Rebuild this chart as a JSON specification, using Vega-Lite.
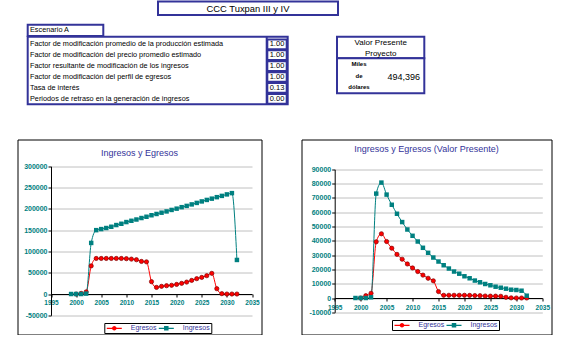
{
  "$schema": "https://vega.github.io/schema/vega-lite/v6.json",
  "background": "white",
  "padding": {"left": 16.5, "top": 0, "right": 0, "bottom": 0},
  "spacing": 27.5,
  "config": {"view": {"stroke": "black", "strokeWidth": 1}},
  "datasets": {
    "parametros": [
      {"fila": 1, "concepto": "Factor de modificación promedio de la producción estimada", "valor": 1.0},
      {"fila": 2, "concepto": "Factor de modificación del precio promedio estimado", "valor": 1.0},
      {"fila": 3, "concepto": "Factor resultante de modificación de los ingresos", "valor": 1.0},
      {"fila": 4, "concepto": "Factor de modificación del perfil de egresos", "valor": 1.0},
      {"fila": 5, "concepto": "Tasa de interés", "valor": 0.13},
      {"fila": 6, "concepto": "Periodos de retraso en la generación de ingresos", "valor": 0.0}
    ],
    "nominal": [
      {"anio": 2000, "serie": "Egresos", "valor": 0},
      {"anio": 2001, "serie": "Egresos", "valor": 1500},
      {"anio": 2002, "serie": "Egresos", "valor": 5000},
      {"anio": 2003, "serie": "Egresos", "valor": 66000},
      {"anio": 2004, "serie": "Egresos", "valor": 83500},
      {"anio": 2005, "serie": "Egresos", "valor": 83500},
      {"anio": 2006, "serie": "Egresos", "valor": 83500},
      {"anio": 2007, "serie": "Egresos", "valor": 83500},
      {"anio": 2008, "serie": "Egresos", "valor": 83500},
      {"anio": 2009, "serie": "Egresos", "valor": 83500},
      {"anio": 2010, "serie": "Egresos", "valor": 83000},
      {"anio": 2011, "serie": "Egresos", "valor": 82000},
      {"anio": 2012, "serie": "Egresos", "valor": 80500},
      {"anio": 2013, "serie": "Egresos", "valor": 76500},
      {"anio": 2014, "serie": "Egresos", "valor": 75500},
      {"anio": 2015, "serie": "Egresos", "valor": 29000},
      {"anio": 2016, "serie": "Egresos", "valor": 15500},
      {"anio": 2017, "serie": "Egresos", "valor": 18000},
      {"anio": 2018, "serie": "Egresos", "valor": 19500},
      {"anio": 2019, "serie": "Egresos", "valor": 20500},
      {"anio": 2020, "serie": "Egresos", "valor": 22500},
      {"anio": 2021, "serie": "Egresos", "valor": 25000},
      {"anio": 2022, "serie": "Egresos", "valor": 28000},
      {"anio": 2023, "serie": "Egresos", "valor": 32000},
      {"anio": 2024, "serie": "Egresos", "valor": 36000},
      {"anio": 2025, "serie": "Egresos", "valor": 39000},
      {"anio": 2026, "serie": "Egresos", "valor": 43000},
      {"anio": 2027, "serie": "Egresos", "valor": 48500},
      {"anio": 2028, "serie": "Egresos", "valor": 12500},
      {"anio": 2029, "serie": "Egresos", "valor": 800},
      {"anio": 2030, "serie": "Egresos", "valor": 0},
      {"anio": 2031, "serie": "Egresos", "valor": 0},
      {"anio": 2032, "serie": "Egresos", "valor": 0},
      {"anio": 1999, "serie": "Ingresos", "valor": 0},
      {"anio": 2000, "serie": "Ingresos", "valor": 0},
      {"anio": 2001, "serie": "Ingresos", "valor": 0},
      {"anio": 2002, "serie": "Ingresos", "valor": 1000},
      {"anio": 2003, "serie": "Ingresos", "valor": 120000},
      {"anio": 2004, "serie": "Ingresos", "valor": 150000},
      {"anio": 2005, "serie": "Ingresos", "valor": 152500},
      {"anio": 2006, "serie": "Ingresos", "valor": 155000},
      {"anio": 2007, "serie": "Ingresos", "valor": 158000},
      {"anio": 2008, "serie": "Ingresos", "valor": 162000},
      {"anio": 2009, "serie": "Ingresos", "valor": 165000},
      {"anio": 2010, "serie": "Ingresos", "valor": 169000},
      {"anio": 2011, "serie": "Ingresos", "valor": 172000},
      {"anio": 2012, "serie": "Ingresos", "valor": 175000},
      {"anio": 2013, "serie": "Ingresos", "valor": 178500},
      {"anio": 2014, "serie": "Ingresos", "valor": 181500},
      {"anio": 2015, "serie": "Ingresos", "valor": 185000},
      {"anio": 2016, "serie": "Ingresos", "valor": 188000},
      {"anio": 2017, "serie": "Ingresos", "valor": 191000},
      {"anio": 2018, "serie": "Ingresos", "valor": 194000},
      {"anio": 2019, "serie": "Ingresos", "valor": 197500},
      {"anio": 2020, "serie": "Ingresos", "valor": 200500},
      {"anio": 2021, "serie": "Ingresos", "valor": 204000},
      {"anio": 2022, "serie": "Ingresos", "valor": 207000},
      {"anio": 2023, "serie": "Ingresos", "valor": 210500},
      {"anio": 2024, "serie": "Ingresos", "valor": 214000},
      {"anio": 2025, "serie": "Ingresos", "valor": 217500},
      {"anio": 2026, "serie": "Ingresos", "valor": 221000},
      {"anio": 2027, "serie": "Ingresos", "valor": 224000},
      {"anio": 2028, "serie": "Ingresos", "valor": 227500},
      {"anio": 2029, "serie": "Ingresos", "valor": 230500},
      {"anio": 2030, "serie": "Ingresos", "valor": 234000},
      {"anio": 2031, "serie": "Ingresos", "valor": 237000},
      {"anio": 2032, "serie": "Ingresos", "valor": 80000}
    ],
    "presente": [
      {"anio": 2000, "serie": "Egresos", "valor": 0},
      {"anio": 2001, "serie": "Egresos", "valor": 1600},
      {"anio": 2002, "serie": "Egresos", "valor": 3300},
      {"anio": 2003, "serie": "Egresos", "valor": 39300},
      {"anio": 2004, "serie": "Egresos", "valor": 44900},
      {"anio": 2005, "serie": "Egresos", "valor": 39500},
      {"anio": 2006, "serie": "Egresos", "valor": 34800},
      {"anio": 2007, "serie": "Egresos", "valor": 30500},
      {"anio": 2008, "serie": "Egresos", "valor": 27100},
      {"anio": 2009, "serie": "Egresos", "valor": 23800},
      {"anio": 2010, "serie": "Egresos", "valor": 21000},
      {"anio": 2011, "serie": "Egresos", "valor": 18500},
      {"anio": 2012, "serie": "Egresos", "valor": 16000},
      {"anio": 2013, "serie": "Egresos", "valor": 13800},
      {"anio": 2014, "serie": "Egresos", "valor": 12000},
      {"anio": 2015, "serie": "Egresos", "valor": 4500},
      {"anio": 2016, "serie": "Egresos", "valor": 1900},
      {"anio": 2017, "serie": "Egresos", "valor": 1900},
      {"anio": 2018, "serie": "Egresos", "valor": 1900},
      {"anio": 2019, "serie": "Egresos", "valor": 1900},
      {"anio": 2020, "serie": "Egresos", "valor": 1900},
      {"anio": 2021, "serie": "Egresos", "valor": 1800},
      {"anio": 2022, "serie": "Egresos", "valor": 1700},
      {"anio": 2023, "serie": "Egresos", "valor": 1600},
      {"anio": 2024, "serie": "Egresos", "valor": 1400},
      {"anio": 2025, "serie": "Egresos", "valor": 1300},
      {"anio": 2026, "serie": "Egresos", "valor": 1300},
      {"anio": 2027, "serie": "Egresos", "valor": 1200},
      {"anio": 2028, "serie": "Egresos", "valor": 500},
      {"anio": 2029, "serie": "Egresos", "valor": 100},
      {"anio": 2030, "serie": "Egresos", "valor": 0},
      {"anio": 2031, "serie": "Egresos", "valor": 0},
      {"anio": 2032, "serie": "Egresos", "valor": 0},
      {"anio": 1999, "serie": "Ingresos", "valor": 0},
      {"anio": 2000, "serie": "Ingresos", "valor": 0},
      {"anio": 2001, "serie": "Ingresos", "valor": 0},
      {"anio": 2002, "serie": "Ingresos", "valor": 500},
      {"anio": 2003, "serie": "Ingresos", "valor": 73000},
      {"anio": 2004, "serie": "Ingresos", "valor": 80700},
      {"anio": 2005, "serie": "Ingresos", "valor": 72300},
      {"anio": 2006, "serie": "Ingresos", "valor": 65200},
      {"anio": 2007, "serie": "Ingresos", "valor": 58900},
      {"anio": 2008, "serie": "Ingresos", "valor": 53100},
      {"anio": 2009, "serie": "Ingresos", "valor": 47900},
      {"anio": 2010, "serie": "Ingresos", "valor": 43500},
      {"anio": 2011, "serie": "Ingresos", "valor": 39500},
      {"anio": 2012, "serie": "Ingresos", "valor": 35100},
      {"anio": 2013, "serie": "Ingresos", "valor": 31600},
      {"anio": 2014, "serie": "Ingresos", "valor": 28300},
      {"anio": 2015, "serie": "Ingresos", "valor": 25500},
      {"anio": 2016, "serie": "Ingresos", "valor": 22900},
      {"anio": 2017, "serie": "Ingresos", "valor": 20600},
      {"anio": 2018, "serie": "Ingresos", "valor": 18500},
      {"anio": 2019, "serie": "Ingresos", "valor": 17000},
      {"anio": 2020, "serie": "Ingresos", "valor": 15200},
      {"anio": 2021, "serie": "Ingresos", "valor": 13800},
      {"anio": 2022, "serie": "Ingresos", "valor": 12200},
      {"anio": 2023, "serie": "Ingresos", "valor": 11000},
      {"anio": 2024, "serie": "Ingresos", "valor": 9800},
      {"anio": 2025, "serie": "Ingresos", "valor": 8900},
      {"anio": 2026, "serie": "Ingresos", "valor": 7900},
      {"anio": 2027, "serie": "Ingresos", "valor": 7200},
      {"anio": 2028, "serie": "Ingresos", "valor": 6500},
      {"anio": 2029, "serie": "Ingresos", "valor": 5800},
      {"anio": 2030, "serie": "Ingresos", "valor": 5600},
      {"anio": 2031, "serie": "Ingresos", "valor": 5100},
      {"anio": 2032, "serie": "Ingresos", "valor": 1600}
    ]
  },
  "vconcat": [
    {
      "width": 545.5,
      "height": 110,
      "view": {"stroke": null},
      "data": {"name": "parametros"},
      "encoding": {
        "x": {"type": "quantitative", "scale": {"domain": [16.5, 562], "nice": false, "zero": false}, "axis": null},
        "y": {"type": "quantitative", "scale": {"domain": [-2.972, 7.119], "reverse": true, "nice": false, "zero": false}, "axis": null}
      },
      "layer": [
        {
          "data": {"values": [{}]},
          "mark": {"type": "rect", "fill": "white", "stroke": "#333399", "strokeWidth": 2},
          "encoding": {"x": {"datum": 157}, "x2": {"datum": 337}, "y": {"datum": -2.93}, "y2": {"datum": -1.69}}
        },
        {
          "data": {"values": [{}]},
          "mark": {"type": "text", "text": "CCC Tuxpan III y IV", "font": "Liberation Sans", "fontSize": 9.4, "color": "black", "align": "center", "baseline": "middle"},
          "encoding": {"x": {"datum": 247}, "y": {"datum": -2.28}}
        },
        {
          "data": {"values": [{}]},
          "mark": {"type": "rect", "fill": "white", "stroke": "#333399", "strokeWidth": 2},
          "encoding": {"x": {"datum": 26.7}, "x2": {"datum": 102.3}, "y": {"datum": -0.8}, "y2": {"datum": 0.24}}
        },
        {
          "data": {"values": [{}]},
          "mark": {"type": "text", "text": "Escenario A", "font": "Liberation Sans", "fontSize": 7.3, "color": "black", "align": "left", "baseline": "middle"},
          "encoding": {"x": {"datum": 29}, "y": {"datum": -0.27}}
        },
        {
          "data": {"values": [{}]},
          "mark": {"type": "rect", "fill": "white", "stroke": "#333399", "strokeWidth": 2},
          "encoding": {"x": {"datum": 26.7}, "x2": {"datum": 286.7}, "y": {"datum": 0.3}, "y2": {"datum": 6.5}}
        },
        {
          "data": {"values": [{}]},
          "mark": {"type": "rule", "stroke": "#333399", "strokeWidth": 2},
          "encoding": {"x": {"datum": 265.7}, "y": {"datum": 0.3}, "y2": {"datum": 6.5}}
        },
        {
          "mark": {"type": "point", "shape": "M-1,-0.5H1V0.5H-1Z", "size": 376, "filled": false, "fill": "white", "fillOpacity": 1, "stroke": "#333399", "strokeWidth": 2, "opacity": 1},
          "encoding": {"x": {"datum": 276}, "y": {"field": "fila"}}
        },
        {
          "mark": {"type": "text", "font": "Liberation Sans", "fontSize": 7.3, "color": "black", "align": "left", "baseline": "middle"},
          "encoding": {"x": {"datum": 29}, "y": {"field": "fila"}, "text": {"field": "concepto"}}
        },
        {
          "mark": {"type": "text", "font": "Liberation Sans", "fontSize": 7.5, "color": "black", "align": "center", "baseline": "middle"},
          "encoding": {"x": {"datum": 276}, "y": {"field": "fila"}, "text": {"field": "valor", "format": ".2f"}}
        },
        {
          "data": {"values": [{}]},
          "mark": {"type": "rect", "fill": "white", "stroke": "#333399", "strokeWidth": 2},
          "encoding": {"x": {"datum": 336}, "x2": {"datum": 423.3}, "y": {"datum": 0.3}, "y2": {"datum": 2.28}}
        },
        {
          "data": {"values": [{}]},
          "mark": {"type": "rect", "fill": "white", "stroke": "#333399", "strokeWidth": 2},
          "encoding": {"x": {"datum": 336}, "x2": {"datum": 423.3}, "y": {"datum": 2.28}, "y2": {"datum": 5.5}}
        },
        {
          "data": {"values": [{}]},
          "mark": {"type": "text", "text": ["Valor Presente", "Proyecto"], "lineHeight": 11, "font": "Liberation Sans", "fontSize": 8, "color": "black", "align": "center", "baseline": "middle"},
          "encoding": {"x": {"datum": 379.7}, "y": {"datum": 0.88}}
        },
        {
          "data": {"values": [{}]},
          "mark": {"type": "text", "text": ["Miles", "de", "dólares"], "lineHeight": 11.4, "font": "Liberation Sans", "fontSize": 6, "fontWeight": "bold", "color": "black", "align": "center", "baseline": "middle"},
          "encoding": {"x": {"datum": 358}, "y": {"datum": 2.85}}
        },
        {
          "data": {"values": [{"vp": 494396}]},
          "mark": {"type": "text", "font": "Liberation Sans", "fontSize": 9, "color": "black", "align": "right", "baseline": "middle"},
          "encoding": {"x": {"datum": 419}, "y": {"datum": 4.03}, "text": {"field": "vp", "format": ",d"}}
        }
      ]
    },
    {
      "spacing": 38,
      "resolve": {"scale": {"color": "independent", "shape": "independent"}, "legend": {"color": "independent", "shape": "independent"}},
      "hconcat": [
        {
          "width": 244,
          "height": 195,
          "data": {"name": "nominal"},
          "title": {"text": "Ingresos y Egresos", "font": "Liberation Sans", "fontSize": 9, "fontWeight": "normal", "color": "#333399", "anchor": "middle", "offset": -18},
          "encoding": {
            "x": {"field": "anio", "type": "quantitative",
              "scale": {"domain": [1995, 2035], "range": [33.5, 234.5], "nice": false, "zero": false},
              "axis": {"title": null, "values": [1995, 2000, 2005, 2010, 2015, 2020, 2025, 2030, 2035], "format": "d", "offset": -40.5, "grid": false, "domainColor": "black", "tickColor": "black", "tickSize": 3, "labelPadding": 2, "labelColor": "#008080", "labelFont": "Liberation Sans", "labelFontSize": 6.5, "labelFontWeight": "bold", "labelFlush": false, "labelOverlap": false}},
            "y": {"field": "valor", "type": "quantitative",
              "scale": {"domain": [-50000, 300000], "range": [175.8, 26.8], "nice": false, "zero": false},
              "axis": {"title": null, "values": [-50000, 0, 50000, 100000, 150000, 200000, 250000, 300000], "labelExpr": "'' + datum.value", "offset": -33.5, "grid": true, "gridColor": "#c0c0c0", "domainColor": "black", "tickColor": "black", "tickSize": 3, "labelPadding": 1, "labelColor": "#008080", "labelFont": "Liberation Sans", "labelFontSize": 7, "labelFontWeight": "bold", "labelFlush": false, "labelOverlap": false}}
          },
          "layer": [
            {
              "data": {"values": [{}]},
              "mark": {"type": "rule", "color": "#808080", "strokeWidth": 1},
              "encoding": {"x": {"datum": 2035}, "y": {"datum": -50000}, "y2": {"datum": 300000}}
            },
            {
              "transform": [{"filter": "datum.serie === 'Egresos'"}],
              "mark": {"type": "line", "interpolate": "monotone", "color": "#ff0000", "strokeWidth": 1}
            },
            {
              "transform": [{"filter": "datum.serie === 'Ingresos'"}],
              "mark": {"type": "line", "interpolate": "monotone", "color": "#008080", "strokeWidth": 1}
            },
            {
              "transform": [{"filter": "datum.serie === 'Egresos'"}],
              "mark": {"type": "point", "shape": "circle", "size": 18, "filled": true, "fill": "#ff0000", "stroke": "#800000", "strokeWidth": 0.7, "opacity": 1}
            },
            {
              "transform": [{"filter": "datum.serie === 'Ingresos'"}],
              "mark": {"type": "point", "shape": "square", "size": 20, "filled": true, "color": "#008080", "opacity": 1}
            },
            {
              "transform": [{"filter": "false"}],
              "mark": {"type": "point", "filled": true, "opacity": 1},
              "encoding": {
                "color": {"field": "serie", "type": "nominal", "scale": {"domain": ["Egresos", "Ingresos"], "range": ["#ff0000", "#008080"]},
                  "legend": {"title": null, "orient": "none", "legendX": 86.8, "legendY": 183.5, "direction": "horizontal", "strokeColor": "black", "fillColor": "white", "padding": 1.5, "labelFont": "Liberation Sans", "labelFontSize": 7, "labelColor": "#333399", "symbolSize": 25, "symbolOffset": 5, "labelOffset": 13, "columnPadding": 1, "symbolStrokeWidth": 0}},
                "shape": {"field": "serie", "type": "nominal", "scale": {"domain": ["Egresos", "Ingresos"], "range": ["M-3,-0.25H3V0.25H-3Z M-0.9,0A0.9,0.9 0 1,1 0.9,0A0.9,0.9 0 1,1 -0.9,0Z", "M-3,-0.25H3V0.25H-3Z M-0.9,-0.9H0.9V0.9H-0.9Z"]},
                  "legend": {"title": null, "orient": "none", "legendX": 86.8, "legendY": 183.5, "direction": "horizontal", "strokeColor": "black", "fillColor": "white", "padding": 1.5, "labelFont": "Liberation Sans", "labelFontSize": 7, "labelColor": "#333399", "symbolSize": 25, "symbolOffset": 5, "labelOffset": 13, "columnPadding": 1, "symbolStrokeWidth": 0}}
              }
            }
          ]
        },
        {
          "width": 250,
          "height": 195,
          "data": {"name": "presente"},
          "title": {"text": "Ingresos y Egresos (Valor Presente)", "font": "Liberation Sans", "fontSize": 9, "fontWeight": "normal", "color": "#333399", "anchor": "middle", "offset": -14},
          "encoding": {
            "x": {"field": "anio", "type": "quantitative",
              "scale": {"domain": [1995, 2035], "range": [33.2, 240.8], "nice": false, "zero": false},
              "axis": {"title": null, "values": [1995, 2000, 2005, 2010, 2015, 2020, 2025, 2030, 2035], "format": "d", "offset": -36.5, "grid": false, "domainColor": "black", "tickColor": "black", "tickSize": 3, "labelPadding": 3, "labelColor": "#008080", "labelFont": "Liberation Sans", "labelFontSize": 6.5, "labelFontWeight": "bold", "labelFlush": false, "labelOverlap": false}},
            "y": {"field": "valor", "type": "quantitative",
              "scale": {"domain": [-10000, 90000], "range": [172.8, 29.8], "nice": false, "zero": false},
              "axis": {"title": null, "values": [-10000, 0, 10000, 20000, 30000, 40000, 50000, 60000, 70000, 80000, 90000], "labelExpr": "'' + datum.value", "offset": -33.2, "grid": true, "gridColor": "#c0c0c0", "domainColor": "black", "tickColor": "black", "tickSize": 3, "labelPadding": 1, "labelColor": "#008080", "labelFont": "Liberation Sans", "labelFontSize": 7, "labelFontWeight": "bold", "labelFlush": false, "labelOverlap": false}}
          },
          "layer": [
            {
              "data": {"values": [{}]},
              "mark": {"type": "rule", "color": "#808080", "strokeWidth": 1},
              "encoding": {"x": {"datum": 2035}, "y": {"datum": -10000}, "y2": {"datum": 90000}}
            },
            {
              "transform": [{"filter": "datum.serie === 'Egresos'"}],
              "mark": {"type": "line", "interpolate": "monotone", "color": "#ff0000", "strokeWidth": 1}
            },
            {
              "transform": [{"filter": "datum.serie === 'Ingresos'"}],
              "mark": {"type": "line", "interpolate": "monotone", "color": "#008080", "strokeWidth": 1}
            },
            {
              "transform": [{"filter": "datum.serie === 'Egresos'"}],
              "mark": {"type": "point", "shape": "circle", "size": 18, "filled": true, "fill": "#ff0000", "stroke": "#800000", "strokeWidth": 0.7, "opacity": 1}
            },
            {
              "transform": [{"filter": "datum.serie === 'Ingresos'"}],
              "mark": {"type": "point", "shape": "square", "size": 20, "filled": true, "color": "#008080", "opacity": 1}
            },
            {
              "transform": [{"filter": "false"}],
              "mark": {"type": "point", "filled": true, "opacity": 1},
              "encoding": {
                "color": {"field": "serie", "type": "nominal", "scale": {"domain": ["Egresos", "Ingresos"], "range": ["#ff0000", "#008080"]},
                  "legend": {"title": null, "orient": "none", "legendX": 90.5, "legendY": 180.5, "direction": "horizontal", "strokeColor": "black", "fillColor": "white", "padding": 1.5, "labelFont": "Liberation Sans", "labelFontSize": 7, "labelColor": "#333399", "symbolSize": 25, "symbolOffset": 5, "labelOffset": 13, "columnPadding": 1, "symbolStrokeWidth": 0}},
                "shape": {"field": "serie", "type": "nominal", "scale": {"domain": ["Egresos", "Ingresos"], "range": ["M-3,-0.25H3V0.25H-3Z M-0.9,0A0.9,0.9 0 1,1 0.9,0A0.9,0.9 0 1,1 -0.9,0Z", "M-3,-0.25H3V0.25H-3Z M-0.9,-0.9H0.9V0.9H-0.9Z"]},
                  "legend": {"title": null, "orient": "none", "legendX": 90.5, "legendY": 180.5, "direction": "horizontal", "strokeColor": "black", "fillColor": "white", "padding": 1.5, "labelFont": "Liberation Sans", "labelFontSize": 7, "labelColor": "#333399", "symbolSize": 25, "symbolOffset": 5, "labelOffset": 13, "columnPadding": 1, "symbolStrokeWidth": 0}}
              }
            }
          ]
        }
      ]
    }
  ]
}
